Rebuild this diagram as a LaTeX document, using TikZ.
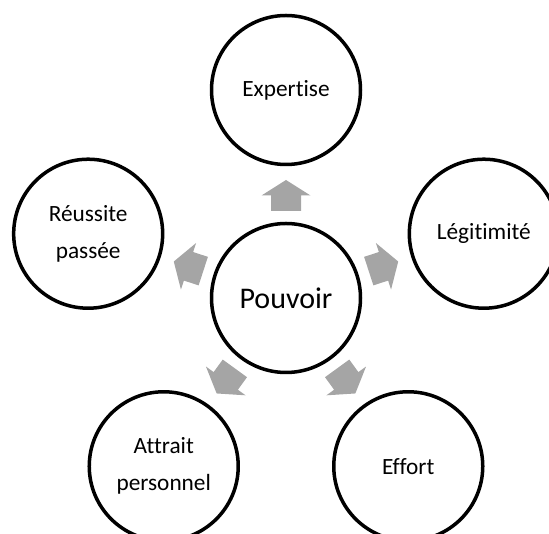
\documentclass[tikz,border=0pt]{standalone}
\usepackage{fontspec}
\setmainfont{Carlito}[RawFeature={-liga,-clig}]
\usetikzlibrary{calc}
\definecolor{arrowgray}{HTML}{A5A5A5}
\begin{document}
\begin{tikzpicture}[x=1pt,y=1pt,
  ring/.style={circle, draw=black, line width=3.5pt, minimum size=149pt,
    inner sep=0pt, align=center, text=black,
    font=\fontsize{23.3}{37}\selectfont},
  hub/.style={ring, font=\fontsize{30}{36}\selectfont},
  blockarrow/.style={fill=arrowgray, draw=none}]
\useasboundingbox (0,0) rectangle (549,534);
\clip (0,0) rectangle (549,534);
\coordinate (c) at (286,236);
% central circle
\node[hub] (pouvoir) at (c) {Pouvoir};
% five sources placed on a pentagon around the centre
\node[ring] (expertise)  at ($(c)+(90:208)$)   {Expertise};
\node[ring] (legitimite) at ($(c)+(18:208)$)   {Légitimité};
\node[ring] (effort)     at ($(c)+(-54:208)$)  {Effort};
\node[ring] (attrait)    at ($(c)+(-126:208)$) {Attrait\\personnel};
\node[ring] (reussite)   at ($(c)+(162:208)$)  {Réussite\\passée};
% grey block arrows pointing outwards
\foreach \a in {90,18,-54,-126,162} {
  \fill[blockarrow, shift={(c)}, rotate=\a]
    (87,-15) -- (102.5,-15) -- (102.5,-24.5) -- (118,0)
    -- (102.5,24.5) -- (102.5,15) -- (87,15) -- cycle;
}
\end{tikzpicture}
\end{document}
